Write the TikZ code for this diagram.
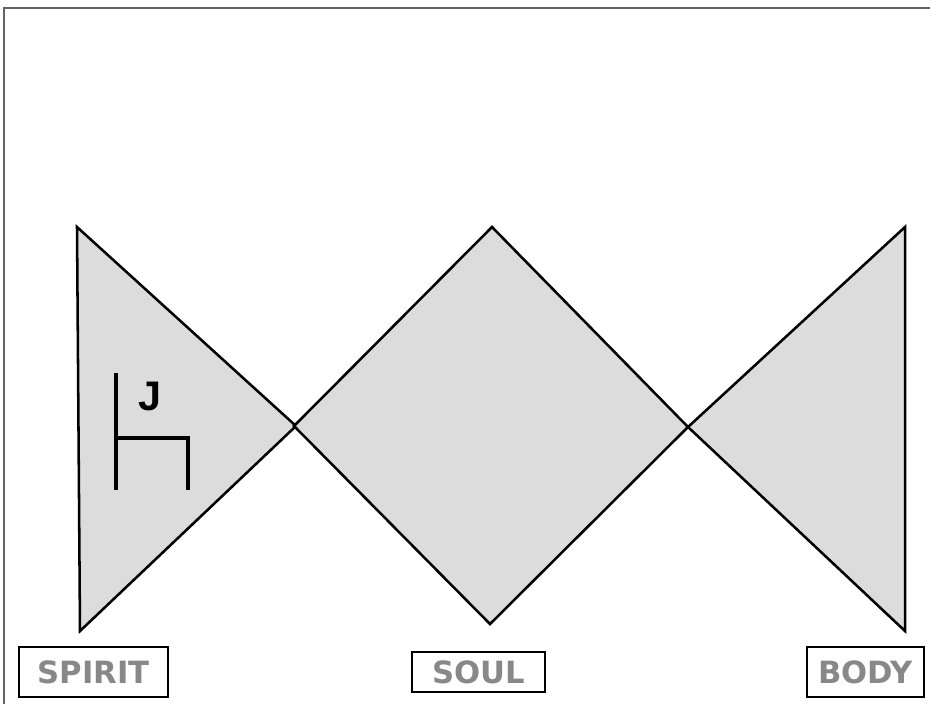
\documentclass[tikz,border=0pt]{standalone}
\usepackage{fontspec}
\setsansfont{DejaVu Sans}
\newfontfamily\jfont{Liberation Sans}
\usepackage{xcolor}
\definecolor{shapegray}{RGB}{220, 220, 220}
\definecolor{labelgray}{RGB}{136, 136, 136}
\definecolor{framegray}{RGB}{100, 100, 100}

\begin{document}
\begin{tikzpicture}[x=0.75pt, y=-0.75pt,
    partshape/.style={fill=shapegray, draw=black, line width=1.9pt, line join=miter},
    partlabel/.style={draw=black, line width=1.7pt, fill=white, inner sep=0pt,
      font=\sffamily\bfseries\fontsize{23}{27}\selectfont, text=labelgray}]

  \useasboundingbox (0,0) rectangle (930,704);

  % --- frame (top and left edges) ---
  \draw[framegray, line width=1pt] (4,704) -- (4,8) -- (930,8);

  % --- spirit triangle, soul diamond, body triangle ---
  \draw[partshape] (77,227) -- (296,426) -- (80,631) -- cycle;
  \draw[partshape] (492,227) -- (688,427) -- (490,624) -- (294,426) -- cycle;
  \draw[partshape] (905,227) -- (905,631) -- (688,427) -- cycle;

  % --- J mark ---
  \draw[line width=2.6pt] (116,373) -- (116,490);
  \draw[line width=2.6pt] (116,438) -- (188,438) -- (188,490);
  \node[font=\jfont\bfseries\fontsize{31}{34}\selectfont] (jmark) at (150,396) {J};

  % --- labels ---
  \node[partlabel, minimum width=111.75pt, minimum height=37.5pt] (spirit) at (93.5,672) {SPIRIT};
  \node[partlabel, minimum width=99.75pt, minimum height=30pt] (soul) at (478.5,672) {SOUL};
  \node[partlabel, minimum width=87.75pt, minimum height=37.5pt] (body) at (865.5,672) {BODY};

\end{tikzpicture}
\end{document}
